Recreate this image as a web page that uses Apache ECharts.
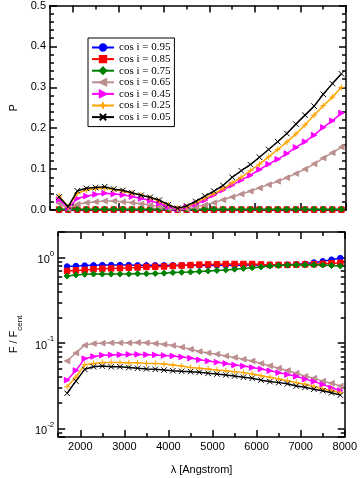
<!DOCTYPE html>
<html><head><meta charset="utf-8">
<script src="https://cdn.jsdelivr.net/npm/echarts@6/dist/echarts.min.js"></script>
<style>html,body{margin:0;padding:0;background:#fff}#c{width:360px;height:478px}</style>
</head><body><div id="c"></div>
<script>
const wavelengths = [1700,1900,2100,2300,2500,2700,2900,3100,3300,3500,3700,3900,4100,4300,4500,4700,4900,5100,5300,5500,5700,5900,6100,6300,6500,6700,6900,7100,7300,7500,7700,7900];
const seriesNames = ['cos i = 0.95','cos i = 0.85','cos i = 0.75','cos i = 0.65','cos i = 0.45','cos i = 0.25','cos i = 0.05'];
const seriesColors = ['#0000ff','#ff0000','#008000','#bc8f8f','#ff00ff','#ffa500','#000000'];
const xMajorTicks = [2000,3000,4000,5000,6000,7000,8000];
const xMinorTicks = [1500,2500,3500,4500,5500,6500,7500];

// Polarization P (top panel)
const P_095 = [0.0005,0.0005,0.0005,0.0005,0.0005,0.0005,0.0005,0.0005,0.0005,0.0005,0.0005,0.0005,0.0005,0.0005,0.0005,0.0005,0.0005,0.0005,0.0005,0.0005,0.0005,0.0005,0.0005,0.0005,0.0005,0.0005,0.0005,0.0005,0.0005,0.0005,0.0005,0.0005];
const P_085 = [0.001,0.001,0.001,0.001,0.001,0.001,0.001,0.001,0.001,0.001,0.001,0.001,0.001,0.001,0.001,0.001,0.001,0.001,0.001,0.001,0.001,0.001,0.001,0.001,0.001,0.001,0.001,0.001,0.001,0.001,0.001,0.001];
const P_075 = [0.002,0.002,0.002,0.002,0.002,0.002,0.002,0.002,0.002,0.002,0.002,0.002,0.002,0.002,0.002,0.002,0.002,0.002,0.002,0.002,0.002,0.002,0.002,0.002,0.002,0.002,0.002,0.002,0.002,0.002,0.002,0.002];
const P_065 = [0.016,0.003,0.014,0.018,0.020,0.022,0.022,0.020,0.018,0.015,0.012,0.008,0.004,0.001,0.003,0.007,0.012,0.018,0.025,0.032,0.039,0.046,0.054,0.062,0.070,0.079,0.089,0.100,0.113,0.127,0.140,0.154];
const P_045 = [0.025,0.005,0.028,0.034,0.038,0.041,0.039,0.037,0.033,0.028,0.023,0.016,0.008,0.002,0.007,0.014,0.024,0.037,0.049,0.061,0.073,0.085,0.099,0.112,0.124,0.138,0.153,0.167,0.183,0.202,0.218,0.237];
const P_025 = [0.034,0.008,0.041,0.049,0.052,0.053,0.050,0.046,0.041,0.037,0.030,0.022,0.012,0.004,0.008,0.018,0.029,0.040,0.052,0.066,0.080,0.096,0.112,0.130,0.148,0.166,0.186,0.208,0.232,0.255,0.276,0.300];
const P_005 = [0.032,0.008,0.047,0.053,0.055,0.057,0.051,0.048,0.042,0.036,0.031,0.024,0.013,0.004,0.010,0.021,0.034,0.046,0.060,0.080,0.096,0.111,0.129,0.148,0.167,0.187,0.210,0.232,0.254,0.283,0.309,0.333];

// Flux ratio F / F_cent (bottom panel)
const F_095 = [0.79,0.80,0.81,0.815,0.82,0.82,0.82,0.82,0.815,0.815,0.815,0.815,0.815,0.815,0.815,0.81,0.81,0.815,0.815,0.815,0.815,0.82,0.82,0.825,0.825,0.83,0.84,0.85,0.88,0.91,0.95,0.99];
const F_085 = [0.70,0.71,0.72,0.735,0.745,0.75,0.755,0.765,0.77,0.78,0.785,0.79,0.80,0.81,0.82,0.83,0.835,0.84,0.845,0.845,0.845,0.845,0.835,0.825,0.825,0.825,0.83,0.835,0.84,0.85,0.86,0.87];
const F_075 = [0.61,0.63,0.64,0.645,0.645,0.645,0.645,0.645,0.65,0.65,0.655,0.66,0.67,0.675,0.68,0.69,0.70,0.71,0.72,0.735,0.75,0.765,0.78,0.80,0.81,0.82,0.825,0.825,0.825,0.82,0.81,0.80];
const F_065 = [0.062,0.077,0.095,0.099,0.100,0.101,0.101,0.101,0.102,0.101,0.099,0.097,0.094,0.090,0.085,0.080,0.077,0.0745,0.071,0.068,0.065,0.062,0.058,0.0545,0.051,0.048,0.0445,0.041,0.039,0.036,0.034,0.0316];
const F_045 = [0.037,0.048,0.066,0.070,0.0725,0.073,0.0735,0.074,0.074,0.0735,0.073,0.072,0.071,0.069,0.067,0.064,0.062,0.060,0.058,0.0556,0.054,0.052,0.050,0.0477,0.0453,0.043,0.041,0.038,0.0356,0.033,0.030,0.028];
const F_025 = [0.031,0.040,0.056,0.058,0.0595,0.0595,0.0595,0.059,0.059,0.058,0.058,0.057,0.0555,0.054,0.052,0.051,0.050,0.0485,0.0477,0.0465,0.0453,0.0436,0.0417,0.040,0.0382,0.0364,0.0346,0.0332,0.0311,0.0293,0.0278,0.0263];
const F_005 = [0.026,0.036,0.0495,0.053,0.054,0.053,0.053,0.052,0.051,0.050,0.0495,0.0485,0.0477,0.047,0.0465,0.0458,0.0445,0.0436,0.0425,0.0413,0.040,0.039,0.037,0.0356,0.0346,0.0335,0.0316,0.0305,0.029,0.0278,0.0263,0.0247];

const topData = [P_095,P_085,P_075,P_065,P_045,P_025,P_005];
const botData = [F_095,F_085,F_075,F_065,F_045,F_025,F_005];
const symbols = [
  'circle',
  'rect',
  'diamond',
  'path://M0,5L10,0L10,10Z',
  'path://M10,5L0,0L0,10Z',
  'path://M5,0L5,10M0,5L10,5',
  'path://M0,0L10,10M10,0L0,10'
];
const symbolSizes = [5.5,5.5,6,5.5,5.5,6,5.5];

const FONT = 'Liberation Sans, Arial, sans-serif';
const AX = {color:'#000', width:1.5};

function xAxes(grid) {
  const base = {type:'value', gridIndex:grid, min:1500, max:8000, splitLine:{show:false}};
  const labelsOn = grid === 1;
  return [
    Object.assign({}, base, {position:'bottom', axisLine:{show:true,onZero:false,lineStyle:AX},
      axisTick:{show:true,inside:true,length:7,lineStyle:AX,customValues:xMajorTicks},
      axisLabel:{show:labelsOn,customValues:xMajorTicks,color:'#000',fontSize:11,fontFamily:FONT,margin:4,formatter:v=>String(v)},
      name: labelsOn ? 'λ [Angstrom]' : '', nameLocation:'middle', nameGap:27,
      nameTextStyle:{color:'#000',fontSize:11,fontFamily:FONT}}),
    Object.assign({}, base, {position:'bottom', axisLine:{show:false,onZero:false},
      axisTick:{show:true,inside:true,length:4,lineStyle:AX,customValues:xMinorTicks},
      axisLabel:{show:false}}),
    Object.assign({}, base, {position:'top', axisLine:{show:true,onZero:false,lineStyle:AX},
      axisTick:{show:true,inside:true,length:7,lineStyle:AX,customValues:xMajorTicks},
      axisLabel:{show:false}}),
    Object.assign({}, base, {position:'top', axisLine:{show:false,onZero:false},
      axisTick:{show:true,inside:true,length:4,lineStyle:AX,customValues:xMinorTicks},
      axisLabel:{show:false}})
  ];
}

const yAxes = [
  {type:'value', gridIndex:0, position:'left', min:0, max:0.5, interval:0.1,
   axisLine:{show:true,onZero:false,lineStyle:AX}, splitLine:{show:false},
   axisTick:{show:true,inside:true,length:7,lineStyle:AX},
   minorTick:{show:true,splitNumber:5,length:4,lineStyle:AX},
   axisLabel:{color:'#000',fontSize:11,fontFamily:FONT,margin:4,formatter:v=>v.toFixed(1)},
   name:'P', nameLocation:'middle', nameGap:31, nameRotate:90,
   nameTextStyle:{color:'#000',fontSize:11,fontFamily:FONT}},
  {type:'value', gridIndex:0, position:'right', min:0, max:0.5, interval:0.1,
   axisLine:{show:true,onZero:false,lineStyle:AX}, splitLine:{show:false},
   axisTick:{show:true,inside:true,length:7,lineStyle:AX},
   minorTick:{show:true,splitNumber:5,length:4,lineStyle:AX},
   axisLabel:{show:false}},
  {type:'log', logBase:10, gridIndex:1, position:'left', min:0.008, max:2,
   axisLine:{show:true,onZero:false,lineStyle:AX}, splitLine:{show:false},
   axisTick:{show:true,inside:true,length:7,lineStyle:AX},
   minorTick:{show:true,splitNumber:9,length:4,lineStyle:AX},
   axisLabel:{color:'#000',fontSize:11,fontFamily:FONT,margin:4,showMinLabel:false,showMaxLabel:false,
     formatter:function(v){const e=Math.log10(v);const r=Math.round(e);if(Math.abs(e-r)>1e-6)return '';return '{b|10}{s|'+r+'}';},
     rich:{b:{fontSize:11,fontFamily:FONT,color:'#000',verticalAlign:'bottom',lineHeight:16},s:{fontSize:8,fontFamily:FONT,color:'#000',verticalAlign:'top',lineHeight:16}}},
   name:'{a|F / F}{s|cent}', nameLocation:'middle', nameGap:33, nameRotate:90,
   nameTextStyle:{color:'#000',fontSize:11,fontFamily:FONT,
     rich:{a:{fontSize:11,fontFamily:FONT,color:'#000',verticalAlign:'top',lineHeight:16},s:{fontSize:8,fontFamily:FONT,color:'#000',verticalAlign:'bottom',lineHeight:16}}}},
  {type:'log', logBase:10, gridIndex:1, position:'right', min:0.008, max:2,
   axisLine:{show:true,onZero:false,lineStyle:AX}, splitLine:{show:false},
   axisTick:{show:true,inside:true,length:7,lineStyle:AX},
   minorTick:{show:true,splitNumber:9,length:4,lineStyle:AX},
   axisLabel:{show:false}}
];

const series = [];
for (let k = 0; k < 2; k++) {
  const dataSet = k === 0 ? topData : botData;
  for (let i = 0; i < seriesNames.length; i++) {
    series.push({
      type:'line', name:seriesNames[i], xAxisIndex:k*4, yAxisIndex:k*2,
      data: wavelengths.map((w,j)=>[w, dataSet[i][j]]),
      symbol: symbols[i], symbolSize: symbolSizes[i], showAllSymbol:true,
      lineStyle:{color:seriesColors[i], width:1.5},
      itemStyle:{color:seriesColors[i], borderColor:seriesColors[i], borderWidth:1},
      emphasis:{disabled:true}, animation:false, z: 2 + i
    });
  }
}

const chart = echarts.init(document.getElementById('c'), null, {renderer:'canvas'});
chart.setOption({
  animation:false,
  backgroundColor:'#fff',
  grid:[
    {left:47, right:14, top:5, height:205, containLabel:false},
    {left:47, right:14, top:232, height:205, containLabel:false}
  ],
  xAxis: xAxes(0).concat(xAxes(1)),
  yAxis: yAxes,
  legend:{
    data: seriesNames, orient:'vertical', left:88, top:38,
    itemWidth:22, itemHeight:8, itemGap:0.6,
    padding:[4,4,4,3], borderColor:'#000', borderWidth:1, backgroundColor:'#fff',
    textStyle:{fontFamily:'Liberation Serif, Times New Roman, serif', fontSize:11, color:'#000', lineHeight:11},
    selectedMode:false
  },
  series: series
});
</script>
</body></html>
